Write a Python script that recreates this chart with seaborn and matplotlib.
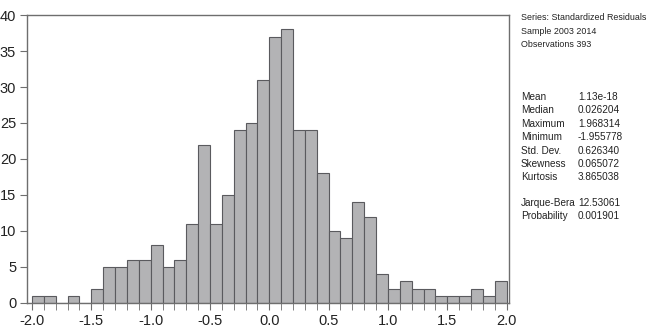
import numpy as np
import pandas as pd
import matplotlib
matplotlib.use("Agg")
import matplotlib.pyplot as plt
import seaborn as sns

# histogram of standardized residuals, bins of width 0.1
bin_left = [-2.0, -1.9, -1.8, -1.7, -1.6, -1.5, -1.4, -1.3, -1.2, -1.1,
            -1.0, -0.9, -0.8, -0.7, -0.6, -0.5, -0.4, -0.3, -0.2, -0.1,
            0.0, 0.1, 0.2, 0.3, 0.4, 0.5, 0.6, 0.7, 0.8, 0.9,
            1.0, 1.1, 1.2, 1.3, 1.4, 1.5, 1.6, 1.7, 1.8, 1.9]
counts = [1, 1, 0, 1, 0, 2, 5, 5, 6, 6,
          8, 5, 6, 11, 22, 11, 15, 24, 25, 31,
          37, 38, 24, 24, 18, 10, 9, 14, 12, 4,
          2, 3, 2, 2, 1, 1, 1, 2, 1, 3]

x_ticks = [-2.0, -1.5, -1.0, -0.5, 0.0, 0.5, 1.0, 1.5, 2.0]
y_ticks = [0, 5, 10, 15, 20, 25, 30, 35, 40]

header = ["Series: Standardized Residuals", "Sample 2003 2014", "Observations 393"]
stat_names = ["Mean", "Median", "Maximum", "Minimum", "Std. Dev.", "Skewness", "Kurtosis"]
stat_values = ["1.13e-18", "0.026204", "1.968314", "-1.955778", "0.626340", "0.065072", "3.865038"]
test_names = ["Jarque-Bera", "Probability"]
test_values = ["12.53061", "0.001901"]

sns.set_style("ticks")
plt.rcParams["font.family"] = ["Liberation Sans", "DejaVu Sans"]

df = pd.DataFrame({"left": bin_left, "count": counts})
df["mid"] = df["left"] + 0.05
edges = list(bin_left) + [2.0]

fig = plt.figure(figsize=(6.5, 3.34), dpi=100)
ax = fig.add_axes([0.042, 0.093, 0.741, 0.862])

sns.histplot(data=df, x="mid", weights="count", bins=edges, ax=ax,
             color="#b3b3b5", edgecolor="#5a5a5e", linewidth=0.8, alpha=1.0)

ax.set_xlim(-2.04, 2.02)
ax.set_ylim(0, 40)
ax.set_xticks(x_ticks)
ax.set_xticklabels([f"{t:.1f}" for t in x_ticks])
ax.set_xticks(edges, minor=True)
ax.set_yticks(y_ticks)
ax.set_xlabel("")
ax.set_ylabel("")

for s in ax.spines.values():
    s.set_color("#6e6e6e")
    s.set_linewidth(1.0)
ax.tick_params(axis="both", which="major", direction="out", length=5,
               color="#6e6e6e", labelsize=10.5, labelcolor="#222222", pad=3)
ax.tick_params(axis="x", which="minor", direction="out", length=5, color="#6e6e6e")

# statistics panel on the right
tx, vx = 0.801, 0.889
fs = 7.2
step = 13.4 / 334
y = 1 - 18 / 334
for line in header:
    fig.text(tx, y, line, fontsize=6.4, va="center", color="#222222")
    y -= step
y = 1 - 97 / 334
for n, v in zip(stat_names, stat_values):
    fig.text(tx, y, n, fontsize=fs, va="center", color="#222222")
    fig.text(vx, y, v, fontsize=fs, va="center", color="#222222")
    y -= step
y = 1 - 203 / 334
for n, v in zip(test_names, test_values):
    fig.text(tx, y, n, fontsize=fs, va="center", color="#222222")
    fig.text(vx, y, v, fontsize=fs, va="center", color="#222222")
    y -= step

fig.savefig("out.png", dpi=100)
